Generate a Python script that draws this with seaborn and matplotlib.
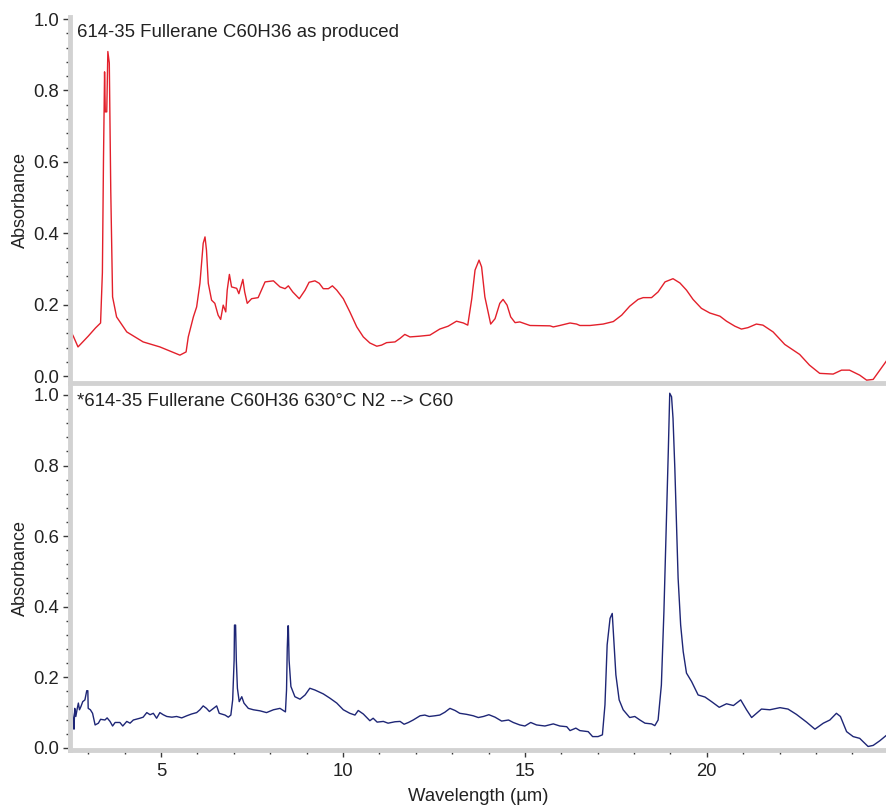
import matplotlib
matplotlib.use("Agg")
import matplotlib.pyplot as plt
from matplotlib.ticker import MultipleLocator
import pandas as pd
import seaborn as sns

# IR absorbance spectra of fullerane C60H36, before and after heating
wl_as_produced = [2.50, 2.53, 2.60, 2.72, 3.00, 3.20, 3.34, 3.39, 3.42, 3.45, 3.47, 3.51,
                  3.54, 3.58, 3.60, 3.62, 3.65, 3.67, 3.78, 4.06, 4.51, 4.97, 5.52, 5.69,
                  5.75, 5.89, 5.98, 6.07, 6.16, 6.21, 6.25, 6.30, 6.39, 6.48, 6.57, 6.64,
                  6.71, 6.78, 6.82, 6.88, 6.94, 7.08, 7.14, 7.25, 7.30, 7.37, 7.49, 7.67,
                  7.74, 7.86, 8.09, 8.27, 8.41, 8.50, 8.62, 8.80, 8.96, 9.07, 9.23, 9.35,
                  9.46, 9.60, 9.71, 9.83, 10.01, 10.19, 10.38, 10.56, 10.74, 10.93, 11.06,
                  11.20, 11.43, 11.57, 11.70, 11.84, 12.10, 12.39, 12.66, 12.89, 13.12,
                  13.31, 13.43, 13.54, 13.63, 13.74, 13.81, 13.90, 14.06, 14.18, 14.31,
                  14.40, 14.51, 14.61, 14.73, 14.86, 15.00, 15.14, 15.69, 15.78, 15.96,
                  16.24, 16.42, 16.51, 16.79, 17.15, 17.43, 17.66, 17.88, 18.11, 18.25,
                  18.48, 18.66, 18.85, 19.07, 19.26, 19.44, 19.62, 19.85, 20.08, 20.36,
                  20.54, 20.77, 20.95, 21.13, 21.36, 21.54, 21.82, 22.14, 22.55, 22.82,
                  23.10, 23.47, 23.70, 23.92, 24.20, 24.39, 24.57, 24.95]
abs_as_produced = [0.129, 0.124, 0.110, 0.082, 0.112, 0.135, 0.149, 0.290, 0.605, 0.852, 0.740, 0.740,
                   0.909, 0.877, 0.710, 0.520, 0.334, 0.222, 0.166, 0.124, 0.096, 0.082, 0.059, 0.068,
                   0.110, 0.166, 0.194, 0.260, 0.372, 0.390, 0.353, 0.260, 0.213, 0.204, 0.171, 0.159,
                   0.199, 0.180, 0.241, 0.285, 0.250, 0.246, 0.231, 0.271, 0.236, 0.204, 0.217, 0.220,
                   0.236, 0.264, 0.267, 0.250, 0.245, 0.253, 0.236, 0.217, 0.241, 0.263, 0.267, 0.260,
                   0.245, 0.245, 0.253, 0.241, 0.217, 0.180, 0.138, 0.110, 0.093, 0.084, 0.087,
                   0.094, 0.096, 0.106, 0.117, 0.110, 0.112, 0.115, 0.132, 0.140, 0.154,
                   0.149, 0.143, 0.217, 0.297, 0.325, 0.306, 0.222, 0.146, 0.161, 0.204,
                   0.215, 0.199, 0.166, 0.150, 0.152, 0.147, 0.142, 0.141, 0.138, 0.142,
                   0.149, 0.146, 0.142, 0.142, 0.146, 0.153, 0.171, 0.196, 0.215, 0.220,
                   0.220, 0.236, 0.264, 0.273, 0.261, 0.241, 0.215, 0.190, 0.177, 0.168,
                   0.154, 0.140, 0.132, 0.136, 0.146, 0.143, 0.124, 0.089, 0.061, 0.031,
                   0.008, 0.006, 0.017, 0.017, 0.003, -0.011, -0.009, 0.045]

wl_annealed = [2.50, 2.55, 2.59, 2.61, 2.63, 2.66, 2.70, 2.73, 2.76, 2.80, 2.85, 2.91, 2.96,
               2.99, 3.00, 3.06, 3.12, 3.19, 3.28, 3.34, 3.46, 3.52, 3.60, 3.67, 3.74, 3.87,
               3.95, 4.06, 4.15, 4.24, 4.42, 4.51, 4.61, 4.70, 4.79, 4.88, 4.97, 5.06, 5.16,
               5.30, 5.43, 5.57, 5.71, 5.84, 5.98, 6.07, 6.16, 6.25, 6.33, 6.53, 6.60, 6.76,
               6.85, 6.92, 6.97, 7.01, 7.02, 7.05, 7.07, 7.10, 7.15, 7.22, 7.28, 7.40, 7.54,
               7.72, 7.90, 8.09, 8.27, 8.42, 8.45, 8.47, 8.49, 8.50, 8.52, 8.57, 8.68, 8.82,
               8.96, 9.09, 9.23, 9.46, 9.64, 9.83, 10.01, 10.19, 10.33, 10.42, 10.56, 10.74,
               10.83, 10.94, 11.11, 11.24, 11.43, 11.57, 11.68, 11.80, 11.93, 12.12, 12.25,
               12.37, 12.53, 12.66, 12.80, 12.94, 13.08, 13.21, 13.40, 13.58, 13.72, 13.86,
               14.01, 14.18, 14.36, 14.55, 14.68, 14.86, 15.00, 15.16, 15.32, 15.55, 15.78,
               15.96, 16.15, 16.24, 16.40, 16.51, 16.74, 16.86, 17.01, 17.13, 17.20, 17.26,
               17.34, 17.40, 17.44, 17.50, 17.59, 17.70, 17.88, 18.02, 18.16, 18.30, 18.48,
               18.57, 18.66, 18.75, 18.82, 18.89, 18.94, 18.98, 19.03, 19.07, 19.12, 19.17,
               19.21, 19.28, 19.35, 19.44, 19.58, 19.76, 19.95, 20.13, 20.34, 20.54, 20.73,
               20.93, 21.09, 21.23, 21.50, 21.73, 22.01, 22.23, 22.46, 22.74, 22.97, 23.20,
               23.38, 23.56, 23.67, 23.84, 24.02, 24.20, 24.43, 24.57, 24.75, 24.95]
abs_annealed = [0.113, 0.112, 0.079, 0.053, 0.112, 0.089, 0.112, 0.127, 0.108, 0.117, 0.131, 0.136, 0.162,
                0.162, 0.112, 0.108, 0.098, 0.065, 0.070, 0.081, 0.079, 0.085, 0.075, 0.062, 0.072, 0.072,
                0.062, 0.075, 0.070, 0.079, 0.084, 0.087, 0.100, 0.094, 0.098, 0.084, 0.100, 0.094, 0.089,
                0.087, 0.089, 0.085, 0.091, 0.096, 0.100, 0.108, 0.119, 0.112, 0.103, 0.119, 0.098, 0.093,
                0.087, 0.093, 0.136, 0.249, 0.348, 0.348, 0.249, 0.169, 0.131, 0.145, 0.127, 0.112, 0.108,
                0.105, 0.100, 0.108, 0.112, 0.102, 0.164, 0.282, 0.346, 0.346, 0.249, 0.174, 0.145, 0.138,
                0.150, 0.169, 0.164, 0.153, 0.141, 0.127, 0.108, 0.098, 0.093, 0.106, 0.096, 0.077,
                0.084, 0.073, 0.075, 0.070, 0.074, 0.075, 0.067, 0.072, 0.079, 0.091, 0.093,
                0.089, 0.091, 0.093, 0.101, 0.112, 0.106, 0.098, 0.095, 0.091, 0.086, 0.089,
                0.094, 0.087, 0.076, 0.079, 0.072, 0.065, 0.062, 0.072, 0.065, 0.062, 0.068,
                0.062, 0.060, 0.049, 0.056, 0.049, 0.046, 0.032, 0.032, 0.037, 0.122, 0.292,
                0.367, 0.381, 0.311, 0.207, 0.136, 0.108, 0.086, 0.089, 0.079, 0.070, 0.068,
                0.063, 0.079, 0.178, 0.386, 0.651, 0.839, 1.005, 0.995, 0.934, 0.792, 0.622,
                0.481, 0.348, 0.273, 0.212, 0.188, 0.150, 0.144, 0.131, 0.115, 0.125, 0.120,
                0.136, 0.108, 0.086, 0.110, 0.108, 0.114, 0.110, 0.095, 0.073, 0.053, 0.070,
                0.079, 0.098, 0.089, 0.046, 0.032, 0.027, 0.004, 0.007, 0.020, 0.037]

title_top = "614-35 Fullerane C60H36 as produced"
title_bottom = "*614-35 Fullerane C60H36 630°C N2 --> C60"
x_label = "Wavelength (µm)"
y_label = "Absorbance"

sns.set_theme(style="white")
plt.rcParams["font.family"] = ["Liberation Sans", "DejaVu Sans"]
plt.rcParams["font.size"] = 13

fig = plt.figure(figsize=(8.87, 8.05), dpi=100)
W, H = 887.0, 805.0
left_px, right_px = 70.0, 887.0
ax_top = fig.add_axes([left_px / W, 1 - 383 / H, (right_px - left_px) / W, (383 - 17) / H])
ax_bot = fig.add_axes([left_px / W, 1 - 750 / H, (right_px - left_px) / W, (750 - 386) / H],
                      sharex=ax_top)

df_top = pd.DataFrame({"wl": wl_as_produced, "A": abs_as_produced})
df_bot = pd.DataFrame({"wl": wl_annealed, "A": abs_annealed})

sns.lineplot(data=df_top, x="wl", y="A", ax=ax_top, color="#e3202b", lw=1.0,
             sort=False, estimator=None)
sns.lineplot(data=df_bot, x="wl", y="A", ax=ax_bot, color="#1e2676", lw=1.0,
             sort=False, estimator=None)

spine_col = "#d2d2d2"
tick_col = "#3a3a3a"
text_col = "#222222"
for ax in (ax_top, ax_bot):
    ax.set_xlim(2.5, 24.95)
    for s in ("top", "right"):
        ax.spines[s].set_visible(False)
    for s in ("left", "bottom"):
        ax.spines[s].set_color(spine_col)
        ax.spines[s].set_linewidth(3.5)
    ax.yaxis.set_major_locator(MultipleLocator(0.2))
    ax.yaxis.set_minor_locator(MultipleLocator(0.04))
    ax.tick_params(axis="y", which="major", direction="out", length=5, width=1,
                   color=tick_col, labelsize=13.3, labelcolor=text_col, pad=3, left=True)
    ax.tick_params(axis="y", which="minor", direction="out", length=3, width=1,
                   color=tick_col, left=True)
    ax.set_ylabel(y_label, fontsize=13, color=text_col, labelpad=3)
    ax.grid(False)

ax_top.set_ylim(-0.019, 1.0056)
ax_bot.set_ylim(-0.006, 1.0255)

ax_top.tick_params(axis="x", which="both", bottom=False, labelbottom=False)
ax_top.set_xlabel("")

ax_bot.xaxis.set_major_locator(MultipleLocator(5))
ax_bot.xaxis.set_minor_locator(MultipleLocator(1))
ax_bot.tick_params(axis="x", which="major", direction="out", length=5, width=1,
                   color=tick_col, labelsize=13.3, labelcolor=text_col, bottom=True, pad=4)
ax_bot.tick_params(axis="x", which="minor", direction="out", length=3, width=1,
                   color=tick_col, bottom=True)
ax_bot.set_xlabel(x_label, fontsize=13.3, color=text_col, labelpad=6)

ax_top.text(0.0085, 0.982, title_top, transform=ax_top.transAxes, ha="left", va="top",
            fontsize=13.4, color=text_col)
ax_bot.text(0.0085, 0.982, title_bottom, transform=ax_bot.transAxes, ha="left", va="top",
            fontsize=13.4, color=text_col)

fig.savefig("out.png", dpi=100)
